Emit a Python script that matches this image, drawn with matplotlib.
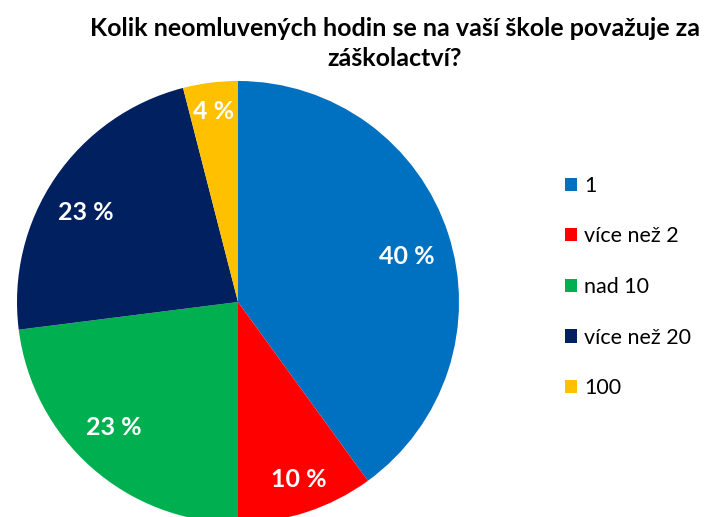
import numpy as np
import matplotlib.pyplot as plt

plt.rcParams['font.family'] = ['Lato', 'DejaVu Sans']

title_lines = ['Kolik neomluvených hodin se na vaší škole považuje za', 'záškolactví?']
categories = ['1', 'více než 2', 'nad 10', 'více než 20', '100']
values = [40, 10, 23, 23, 4]
colors = ['#0070C0', '#FF0000', '#00B050', '#002060', '#FFC000']

W, H = 707, 517
fig = plt.figure(figsize=(W / 100, H / 100), dpi=100)

# pie centre and radius in pixels
cx, cy, r = 238, 302, 221
lim = 1.02
side = 2 * r * lim
ax = fig.add_axes([(cx - side / 2) / W, (H - cy - side / 2) / H, side / W, side / H])

wedges, texts, autotexts = ax.pie(
    values, colors=colors, startangle=90, counterclock=False,
    autopct=lambda p: f'{p:.0f} %', pctdistance=0.8,
    wedgeprops=dict(linewidth=0),
    textprops=dict(color='white', fontsize=18, fontweight='bold'))
ax.set_xlim(-lim, lim)
ax.set_ylim(-lim, lim)
ax.set_aspect('equal')

# label placement as in the original (best fit): distance, angle nudge in deg
label_dist = [0.79, 0.85, 0.80, 0.80, 0.87]
label_nudge = [-3, 1, -3.4, 3.7, 0]
for w, t, d, n in zip(wedges, autotexts, label_dist, label_nudge):
    a = np.deg2rad((w.theta1 + w.theta2) / 2 + n)
    t.set_position((d * np.cos(a), d * np.sin(a)))

for i, line in enumerate(title_lines):
    fig.text(395 / W, 1 - (28 + 30 * i) / H, line, ha='center', va='center',
             fontsize=18, fontweight='bold')

fig.legend(wedges, categories, loc='center left',
           bbox_to_anchor=(565 / W, 1 - 287 / H), frameon=False,
           borderpad=0, borderaxespad=0,
           fontsize=15.5, handlelength=0.56, handleheight=0.56,
           handletextpad=0.33, labelspacing=1.42)

fig.savefig('out.png', dpi=100)
